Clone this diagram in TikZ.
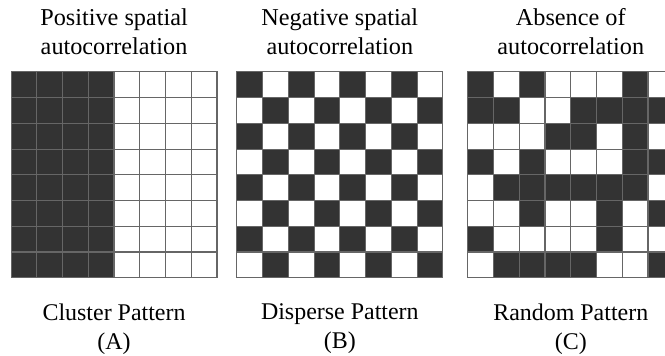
\documentclass[tikz,border=0pt]{standalone}
\usepackage{fontspec}
\setmainfont{Liberation Serif}
\usetikzlibrary{positioning,calc}
\definecolor{cosc}{HTML}{333333}
\definecolor{clinea}{HTML}{666666}
\tikzset{
  marco/.style={rectangle, minimum size=5.2cm, inner sep=0pt, outer sep=0pt},
  celda/.style={draw=clinea, fill=white, line width=0.8pt},
  celdan/.style={draw=clinea, fill=cosc, line width=0.8pt},
  titulo/.style={align=center, font=\fontsize{17.4}{20.5}\selectfont, inner sep=0pt},
  pie/.style={align=center, font=\fontsize{17.2}{21}\selectfont, inner sep=0pt},
}

\begin{document}
\begin{tikzpicture}[x=0.65cm, y=0.65cm]
  \useasboundingbox (0,0) rectangle (25.83,13.79);
  \clip (0,0) rectangle (25.83,13.79);
  % cuadriculas (solo como referencia para los textos)
  \node[marco, anchor=south west] (gA) at (0.43,3) {};
  \node[marco, anchor=south west] (gB) at (9.2,3) {};
  \node[marco, anchor=south west] (gC) at (18.17,3) {};
  % (A) agrupado
  \foreach \i in {0,...,7} \foreach \j in {0,...,7} {
    \ifnum\i<4
      \path[celdan] ($(gA.south west)+(\i,\j)$) rectangle ++(1,1);
    \else
      \path[celda] ($(gA.south west)+(\i,\j)$) rectangle ++(1,1);
    \fi
  }
  % (B) disperso
  \foreach \i in {0,...,7} \foreach \j in {0,...,7} {
    \pgfmathtruncatemacro\paridad{mod(\i+\j,2)}
    \ifnum\paridad=1
      \path[celdan] ($(gB.south west)+(\i,\j)$) rectangle ++(1,1);
    \else
      \path[celda] ($(gB.south west)+(\i,\j)$) rectangle ++(1,1);
    \fi
  }
  % (C) aleatorio, filas de arriba a abajo
  \foreach \fila [count=\r] in {{1,0,1,0,0,0,1,0},{1,1,0,0,1,1,1,1},
      {0,0,0,1,1,0,1,0},{1,0,1,0,0,0,1,1},{0,1,1,1,1,1,1,0},
      {0,0,1,0,0,1,0,1},{1,0,0,0,0,1,0,0},{0,1,1,1,1,0,0,1}} {
    \foreach \v [count=\c] in \fila {
      \ifnum\v=1
        \path[celdan] ($(gC.south west)+(\c-1,8-\r)$) rectangle ++(1,1);
      \else
        \path[celda] ($(gC.south west)+(\c-1,8-\r)$) rectangle ++(1,1);
      \fi
    }
  }
  \node[titulo, above=0.43cm of gA] (tA) {Positive spatial\\autocorrelation};
  \node[titulo, above=0.43cm of gB] (tB) {Negative spatial\\autocorrelation};
  \node[titulo, above=0.43cm of gC] (tC) {Absence of\\autocorrelation};
  \node[pie, below=0.65cm of gA] (pA) {Cluster Pattern\\(A)};
  \node[pie, below=0.65cm of gB] (pB) {Disperse Pattern\\(B)};
  \node[pie, below=0.65cm of gC] (pC) {Random Pattern\\(C)};
\end{tikzpicture}
\end{document}
